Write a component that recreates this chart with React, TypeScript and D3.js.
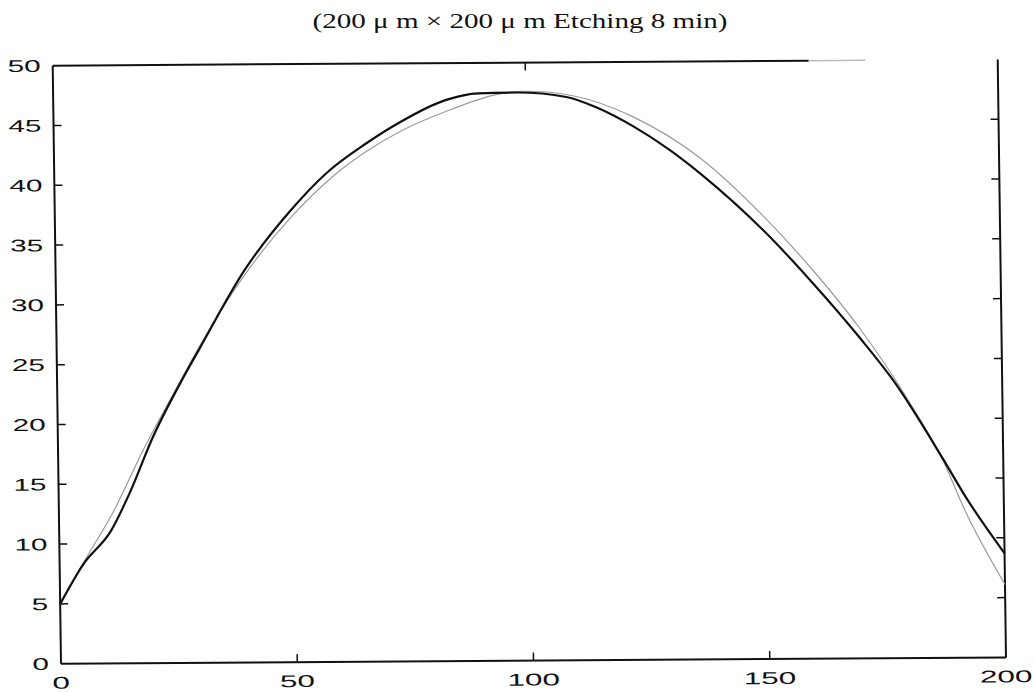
import React from 'react'
import * as d3 from 'd3'

// measured profile (dark) and fitted profile (grey), depth vs position
const darkX = [0, 5, 11, 15, 20, 26.5, 30, 40, 50, 57.7, 66, 73.4, 83, 90, 98, 108.6, 115, 122.7, 130, 136.8, 150, 160, 170, 177, 187, 192, 200]
const darkY = [5, 8.3, 11.1, 14.2, 18.8, 23.7, 26.1, 32.8, 37.8, 40.9, 43.3, 45.1, 46.9, 47.45, 47.5, 47.1, 46.2, 44.6, 42.7, 40.6, 35.8, 31.5, 26.8, 23.2, 16.8, 13.4, 8.7]
const greyX = [0, 5.4, 11.7, 18, 25, 30, 40, 50, 59, 73.3, 84, 94.5, 100, 110, 122.7, 136.8, 150, 160, 170, 180, 187, 192, 200]
const greyY = [5, 8.65, 12.8, 17.8, 22.8, 26.3, 32.4, 37.2, 40.6, 44.3, 46.1, 47.4, 47.6, 47.2, 45.4, 41.9, 37, 32.6, 27.6, 21.6, 16.7, 12.1, 6.1]

const xTicks = [0, 50, 100, 150, 200]
const yTicks = [0, 5, 10, 15, 20, 25, 30, 35, 40, 45, 50]
const title = '(200 \u03bc m  \u00d7  200 \u03bc m Etching 8 min)'

const W = 945
const H = 598

const App = () => {
  const x = d3.scaleLinear().domain([0, 200]).range([0, W])
  const y = d3.scaleLinear().domain([0, 50]).range([H, 0])

  const line = d3
    .line<[number, number]>()
    .x((d) => x(d[0]))
    .y((d) => y(d[1]))
    .curve(d3.curveMonotoneX)

  const dark = darkX.map((v, i) => [v, darkY[i]] as [number, number])
  const grey = greyX.map((v, i) => [v, greyY[i]] as [number, number])

  const numFont = { fontFamily: '"Liberation Sans", Arial, sans-serif', fontSize: 17, fill: '#111' }

  return (
    <div style={{ position: 'absolute', left: 0, top: 0 }}>
      <svg width={1035} height={692} style={{ display: 'block', background: '#fff' }}>
        <text
          x={520}
          y={28}
          textAnchor='middle'
          textLength={415}
          lengthAdjust='spacingAndGlyphs'
          style={{ fontFamily: '"Liberation Serif", "Times New Roman", serif', fontSize: 22, fill: '#111' }}
        >
          {title}
        </text>
        {/* scanned figure is slightly skewed, so the plot frame is too */}
        <g transform='matrix(1, -0.00667, 0.01388, 1, 52.7, 65.7)'>
          {/* frame */}
          <line x1={0} y1={0} x2={0} y2={H} stroke='#111' strokeWidth={2} />
          <line x1={0} y1={H} x2={W} y2={H} stroke='#111' strokeWidth={2} />
          <line x1={W} y1={0} x2={W} y2={H} stroke='#111' strokeWidth={2} />
          <line x1={0} y1={0} x2={x(160)} y2={0} stroke='#111' strokeWidth={2} />
          <line x1={x(160)} y1={0} x2={x(172)} y2={0} stroke='#bbb' strokeWidth={1.5} />

          {/* ticks */}
          {yTicks.slice(1, -1).map((t) => (
            <g key={'yt' + t}>
              <line x1={0} x2={8} y1={y(t)} y2={y(t)} stroke='#111' strokeWidth={1.5} />
              <line x1={W} x2={W - 8} y1={y(t)} y2={y(t)} stroke='#111' strokeWidth={1.5} />
            </g>
          ))}
          {xTicks.slice(1, -1).map((t) => (
            <g key={'xt' + t}>
              <line x1={x(t)} x2={x(t)} y1={H} y2={H - 8} stroke='#111' strokeWidth={1.5} />
              {t === 100 && <line x1={x(t)} x2={x(t)} y1={0} y2={8} stroke='#111' strokeWidth={1.5} />}
            </g>
          ))}

          {/* tick labels */}
          {yTicks.map((t) => (
            <text
              key={'yl' + t}
              x={-12}
              y={y(t)}
              dy='0.36em'
              textAnchor='end'
              textLength={String(t).length * 16.5}
              lengthAdjust='spacingAndGlyphs'
              style={numFont}
            >
              {t}
            </text>
          ))}
          {xTicks.map((t) => (
            <text
              key={'xl' + t}
              x={x(t)}
              y={H + 25}
              textAnchor='middle'
              textLength={String(t).length * 17.5}
              lengthAdjust='spacingAndGlyphs'
              style={numFont}
            >
              {t}
            </text>
          ))}

          {/* curves */}
          <path d={line(grey) || ''} fill='none' stroke='#9a9a9a' strokeWidth={1.2} />
          <path d={line(dark) || ''} fill='none' stroke='#111' strokeWidth={2.2} />
        </g>
      </svg>
    </div>
  )
}

export default App
